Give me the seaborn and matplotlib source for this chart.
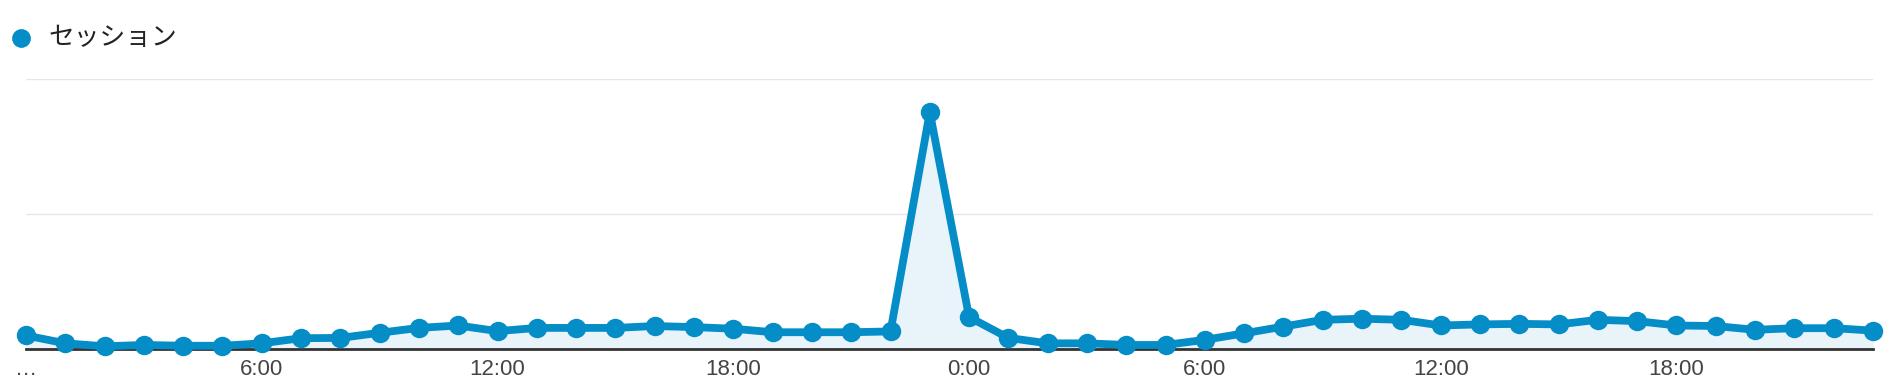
import numpy as np
import pandas as pd
import seaborn as sns
import matplotlib.pyplot as plt
from matplotlib.lines import Line2D

# 時間ごとのセッション数
hours = list(range(48))
sessions = [5.0, 2.1, 1.0, 1.5, 1.2, 1.2, 2.1, 4.0, 4.1, 6.0, 7.8, 8.7,
            6.6, 7.8, 7.8, 7.8, 8.5, 8.1, 7.5, 6.2, 6.2, 6.2, 6.5, 87.6,
            11.8, 4.1, 2.1, 2.1, 1.5, 1.5, 3.4, 5.8, 8.3, 10.8, 11.2, 10.8,
            8.7, 9.1, 9.3, 9.1, 10.8, 10.3, 8.7, 8.5, 7.1, 7.7, 7.7, 6.8]
tick_pos = [0, 6, 12, 18, 24, 30, 36, 42]
tick_labels = ['…', '6:00', '12:00', '18:00', '0:00', '6:00', '12:00', '18:00']
series_name = 'セッション'

df = pd.DataFrame({'hour': hours, 'sessions': sessions})

blue = '#058DC7'
fill = '#E8F3FA'

sns.set_theme(style='white')
plt.rcParams['font.family'] = ['Liberation Sans', 'Noto Sans CJK JP', 'DejaVu Sans']

fig = plt.figure(figsize=(18.9, 3.88), dpi=100)
ax = fig.add_axes([0.01376, 0.1005, 0.9772, 0.697])

ax.fill_between(df['hour'], 0, df['sessions'], color=fill, zorder=1)
sns.lineplot(data=df, x='hour', y='sessions', ax=ax, color=blue, linewidth=5.6,
             marker='o', markersize=14, markeredgewidth=0, zorder=3, clip_on=False)

ax.set_xlim(0, 47)
ax.set_ylim(0, 100)
ax.set_yticks([50, 100])
ax.yaxis.grid(True, color='#E6E6E6', linewidth=1)
ax.tick_params(axis='y', left=False, labelleft=False)
ax.set_xticks(tick_pos)
ax.set_xticklabels(tick_labels, fontsize=16, color='#444444')
ax.tick_params(axis='x', length=0, pad=7)
ax.set_xlabel('')
ax.set_ylabel('')
for s in ['top', 'right', 'left']:
    ax.spines[s].set_visible(False)
ax.spines['bottom'].set_color('#333333')
ax.spines['bottom'].set_linewidth(2)
ax.spines['bottom'].set_zorder(2)

# 凡例（手動で配置）
fig.add_artist(Line2D([20.5 / 1890], [1 - 37.5 / 388], transform=fig.transFigure,
                      marker='o', linestyle='none', markersize=13.5,
                      markerfacecolor=blue, markeredgewidth=0))
fig.text(48 / 1890, 1 - 38 / 388, series_name, fontsize=18.5, color='#222222',
         va='center', ha='left', family=['Noto Sans CJK JP', 'DejaVu Sans'])

fig.savefig('out.png', dpi=100)
